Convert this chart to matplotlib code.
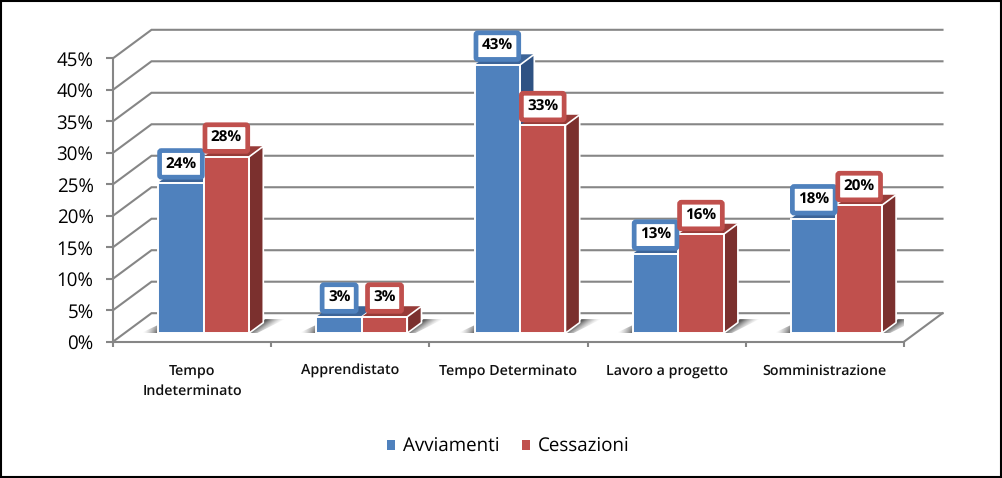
import numpy as np
import matplotlib
matplotlib.use("Agg")
import matplotlib.pyplot as plt
from matplotlib.patches import Polygon, Patch, Rectangle
from matplotlib.ticker import PercentFormatter

categories = ["Tempo\nIndeterminato", "Apprendistato", "Tempo Determinato", "Lavoro a progetto", "Somministrazione"]
avviamenti = [23.9, 2.6, 42.6, 12.6, 18.2]
cessazioni = [28.0, 2.6, 33.0, 15.7, 20.3]
series_names = ["Avviamenti", "Cessazioni"]
y_ticks = [0, 5, 10, 15, 20, 25, 30, 35, 40, 45]

plt.rcParams["text.hinting"] = "no_hinting"
W, H = 1003, 478
FONT = "Open Sans"
GREY = "#868686"
BLUE, BLUE_SIDE, BLUE_TOP = "#4F81BD", "#2F5283", "#3C6498"
RED, RED_SIDE, RED_TOP = "#C0504D", "#7B302E", "#973B38"

fig = plt.figure(figsize=(W / 100, H / 100), dpi=100, facecolor="white")
ax = fig.add_axes([113 / W, 1 - 341.7 / H, 791 / W, 283.4 / H])
ax.set_xlim(0, 5)
ax.set_ylim(0, 45)
ax.patch.set_alpha(0)

PX = 5 / 791            # one pixel in category units
PY = 45 / 283.4         # one pixel in percent units
DX, DY = 38.5 * PX, 28.5 * PY   # depth of the floor
BAR_W = 45.4 * PX
F0, F1 = 0.30, 0.67     # bar front and back in the depth

# walls and floor
for v in y_ticks:
    ax.plot([0, DX, 5 + DX], [v, v + DY, v + DY], color=GREY, lw=1.5, clip_on=False, zorder=1,
            solid_joinstyle="miter")
ax.plot([5, 5 + DX], [0, DY], color=GREY, lw=1.5, clip_on=False, zorder=1)


def shadow(points, extent, alpha):
    im = ax.imshow(alpha, extent=extent, origin="lower", aspect="auto", zorder=2,
                   interpolation="bilinear")
    poly = Polygon(points, closed=True, transform=ax.transData, fc="none", ec="none")
    ax.add_patch(poly)
    im.set_clip_path(poly)


def gradient(kind):
    u, v = np.meshgrid(np.linspace(0, 1, 72), np.linspace(0, 1, 28))
    if kind == "right":
        d = u * 36 - v * 14 * 1.35
        a = np.clip(1 - d / 18, 0, 1) ** 1.5
    else:
        a = np.clip(u * 1.1 - 0.1, 0, 1) ** 1.5 * (1 - 0.4 * v)
    out = np.zeros(a.shape + (4,))
    out[..., :3] = 0.3
    out[..., 3] = a * 0.9
    return out


base = F0 * DY
ex, ey = (F1 - F0) * DX, (F1 - F0) * DY

for i, (a, c) in enumerate(zip(avviamenti, cessazioni)):
    left = i + 0.5 + F0 * DX - BAR_W
    mid = left + BAR_W
    right = mid + BAR_W
    # floor shadows
    shadow([(right, base), (right + 16 * PX, base + 14 * PY),
            (right + 36 * PX, base + 14 * PY), (right + 8 * PX, base)],
           (right, right + 36 * PX, base, base + 14 * PY), gradient("right"))
    shadow([(left - 17 * PX, base), (left, base), (left, base + 8 * PY)],
           (left - 17 * PX, left, base, base + 8 * PY), gradient("left"))
    # bars
    for x0, val, face, side, top in ((left, a, BLUE, BLUE_SIDE, BLUE_TOP), (mid, c, RED, RED_SIDE, RED_TOP)):
        x1 = x0 + BAR_W
        y1 = base + val
        ax.add_patch(Polygon([(x0, y1), (x1, y1), (x1 + ex, y1 + ey), (x0 + ex, y1 + ey)], fc=top, ec="none",
                             clip_on=False, zorder=3))
        ax.add_patch(Polygon([(x1, base), (x1 + ex, base + ey), (x1 + ex, y1 + ey), (x1, y1)], fc=side,
                             ec="white", lw=1.2, joinstyle="round", clip_on=False, zorder=3))
        ax.bar(x0, val, BAR_W, bottom=base, align="edge", color=face, edgecolor="white", linewidth=1.4,
               zorder=3, clip_on=False)

# value labels
for i, (a, c) in enumerate(zip(avviamenti, cessazioni)):
    left = i + 0.5 + F0 * DX - BAR_W
    for x0, val, col in ((left, a, BLUE), (left + BAR_W, c, RED)):
        ax.annotate(f"{val:.0f}%", (x0 + BAR_W / 2, base + val), xytext=(0, 13.5), textcoords="offset points",
                    ha="center", va="center", fontsize=11, fontweight="bold", family=FONT, color="black",
                    zorder=5, annotation_clip=False,
                    bbox=dict(boxstyle="round,pad=0.38,rounding_size=0.12", fc="white", ec=col, lw=3.4))

# axes
for s in ("top", "right"):
    ax.spines[s].set_visible(False)
for s in ("left", "bottom"):
    ax.spines[s].set_color(GREY)
    ax.spines[s].set_linewidth(1.5)
    ax.spines[s].set_zorder(1.5)
ax.set_yticks(y_ticks)
ax.yaxis.set_major_formatter(PercentFormatter(decimals=0))
ax.tick_params(axis="y", length=5, width=1.5, color=GREY, pad=9, labelsize=13.5, labelcolor="black")
for t in ax.get_yticklabels():
    t.set_family(FONT)
ax.set_xticks(range(6))
ax.set_xticklabels([])
ax.tick_params(axis="x", which="major", length=3.5, width=1.5, color=GREY)
ax.set_xticks(np.arange(5) + 0.5, minor=True)
ax.set_xticklabels(categories, minor=True, fontsize=10.3, fontweight=600, family=FONT, linespacing=1.63,
                   color="#111111")
ax.tick_params(axis="x", which="minor", length=0, pad=16)

leg = fig.legend(handles=[Patch(fc=BLUE, ec="none", label=series_names[0]),
                          Patch(fc=RED, ec="none", label=series_names[1])],
                 loc="center", bbox_to_anchor=(508 / W, 1 - 447 / H), ncol=2, frameon=False,
                 prop={"family": FONT, "size": 13.5}, handlelength=0.46, handleheight=0.46,
                 handletextpad=0.4, columnspacing=1.2)

fig.add_artist(Rectangle((0.75 / W, 0.75 / H), 1000.5 / W, (H - 1.5) / H, transform=fig.transFigure,
                         fc="none", ec="black", lw=1.5))
fig.savefig("out.png", dpi=100)
